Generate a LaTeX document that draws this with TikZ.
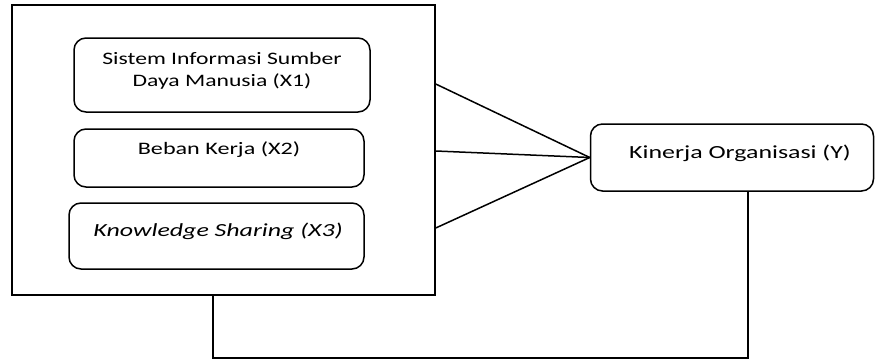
\documentclass[tikz,border=0pt]{standalone}
\usepackage{fontspec}
\setmainfont{Carlito}
\newcommand{\wide}[2][1.4]{\scalebox{#1}[1]{#2}}
\begin{document}
\begin{tikzpicture}[x=1pt,y=-1pt,
  line width=1.5pt,
  outerbox/.style={draw, rectangle, inner sep=0pt},
  varbox/.style={draw, rectangle, rounded corners=12pt, inner sep=0pt},
  lbl/.style={inner sep=0pt, align=center, font=\fontsize{18.5}{22}\selectfont},
  lblsmall/.style={lbl, font=\fontsize{17.5}{22}\selectfont},
  conn/.style={draw, line width=1.5pt}]
\useasboundingbox (0,0) rectangle (876,364);
\node[outerbox, minimum width=423pt, minimum height=290pt] (outer) at (223.5,150) {};
\node[varbox, minimum width=296pt, minimum height=74pt] (x1) at (222,75) {};
\node[varbox, minimum width=290pt, minimum height=58pt] (x2) at (219,158) {};
\node[varbox, minimum width=295pt, minimum height=66pt] (x3) at (216.5,236) {};
\node[varbox, minimum width=283pt, minimum height=67pt] (y) at (732,157.5) {};
\node[lblsmall] (t1) at (222,71) {\wide[1.35]{Sistem Informasi Sumber}\\\wide[1.35]{Daya Manusia (X1)}};
\node[lblsmall] (t2) at (219,150) {\wide[1.38]{Beban Kerja (X2)}};
\node[lbl] (t3) at (218,231) {\wide{\itshape Knowledge Sharing (X3)}};
\node[lbl] (ty) at (740,153) {\wide{Kinerja Organisasi (Y)}};
\coordinate (o1) at (outer.east |- 0,84);
\coordinate (o2) at (outer.east |- 0,151);
\coordinate (o3) at (outer.east |- 0,228);
\draw[conn] (o1) -- (y.west);
\draw[conn] (o2) -- (y.west);
\draw[conn] (o3) -- (y.west);
\coordinate (b1) at (213,358);
\coordinate (b2) at (748,358);
\draw[conn] (outer.south -| b1) -- (b1) -- (b2) -- (y.south -| b2);
\end{tikzpicture}
\end{document}
